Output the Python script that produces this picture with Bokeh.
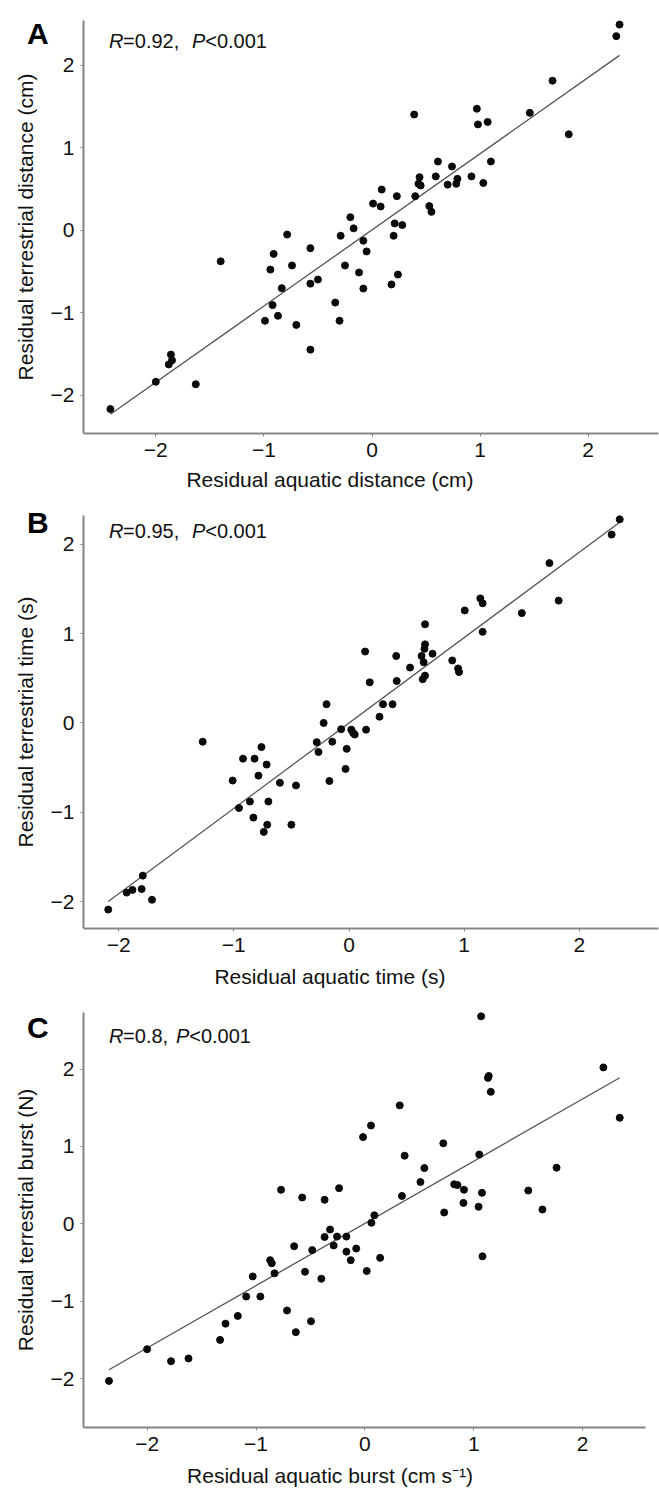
import numpy as np
from bokeh.plotting import figure
from bokeh.layouts import column
from bokeh.models import Label, FixedTicker
from bokeh.embed import file_html
from bokeh.resources import INLINE

# ---------------- data ----------------
tick_values = [-2, -1, 0, 1, 2]
tick_labels = ["\u22122", "\u22121", "0", "1", "2"]

panel_letters = ["A", "B", "C"]
x_titles = ["Residual aquatic distance (cm)",
            "Residual aquatic time (s)",
            "Residual aquatic burst (cm s\u207b\u00b9)"]
y_titles = ["Residual terrestrial distance (cm)",
            "Residual terrestrial time (s)",
            "Residual terrestrial burst (N)"]
r_values = ["0.92", "0.95", "0.8"]
p_value = "<0.001"

a_x = [2.29, 2.26, 1.67, 1.46, 1.82, 0.97, 0.98, 1.07, 0.39, 1.10, 0.61, 0.74,
       0.44, 0.43, 0.45, 0.59, 0.70, 0.79, 0.78, 0.92, 1.03, 0.09, 0.23, 0.40,
       0.01, 0.08, 0.53, 0.55, -0.20, -0.17, 0.21, 0.28, -0.29, 0.20, -0.785,
       -0.08, -0.05, -0.57, -0.91, -1.40, -0.74, -0.25, -0.94, -0.12, 0.24,
       -0.50, -0.57, 0.18, -0.835, -0.08, -0.34, -0.92, -0.99, -0.30, -0.87,
       -0.70, -0.57, -1.86, -1.85, -1.88, -2.00, -1.63, -2.42]
a_y = [2.49, 2.35, 1.81, 1.42, 1.16, 1.47, 1.28, 1.31, 1.40, 0.83, 0.83, 0.77,
       0.64, 0.56, 0.54, 0.65, 0.55, 0.62, 0.56, 0.65, 0.57, 0.49, 0.41, 0.41,
       0.32, 0.285, 0.29, 0.22, 0.155, 0.02, 0.08, 0.06, -0.07, -0.07, -0.055,
       -0.13, -0.26, -0.22, -0.29, -0.38, -0.43, -0.43, -0.48, -0.515, -0.54,
       -0.60, -0.65, -0.66, -0.705, -0.71, -0.88, -0.91, -1.10, -1.10, -1.04,
       -1.15, -1.45, -1.51, -1.58, -1.63, -1.84, -1.87, -2.17]

b_x = [2.35, 2.28, 1.74, 1.82, 1.50, 1.14, 1.16, 1.16, 1.005, 0.66, 0.66, 0.655,
       0.725, 0.63, 0.648, 0.896, 0.947, 0.955, 0.66, 0.64, 0.53, 0.41, 0.14,
       0.414, 0.18, 0.295, 0.378, -0.195, 0.265, -0.22, -0.068, 0.148, 0.02,
       0.035, 0.05, -1.27, -0.28, -0.145, -0.02, -0.265, -0.76, -0.92, -0.82,
       -0.715, -0.786, -1.01, -0.60, -0.46, -0.17, -0.03, -0.86, -0.70, -0.955,
       -0.83, -0.71, -0.74, -0.50, -1.79, -1.80, -1.88, -1.93, -1.71, -2.09]
b_y = [2.28, 2.11, 1.79, 1.37, 1.23, 1.395, 1.34, 1.02, 1.26, 1.105, 0.88, 0.83,
       0.775, 0.75, 0.68, 0.70, 0.61, 0.57, 0.53, 0.49, 0.62, 0.75, 0.80,
       0.47, 0.455, 0.21, 0.21, 0.21, 0.07, 0.0, -0.07, -0.075, -0.075,
       -0.11, -0.13, -0.21, -0.215, -0.21, -0.29, -0.325, -0.27, -0.40, -0.40,
       -0.466, -0.59, -0.645, -0.67, -0.70, -0.65, -0.515, -0.88, -0.88, -0.953,
       -1.06, -1.14, -1.22, -1.14, -1.71, -1.86, -1.87, -1.90, -1.98, -2.09]

c_x = [1.067, 2.19, 1.137, 1.13, 1.156, 2.34, 0.32, 0.056, -0.017, 0.72, 1.05,
       0.365, 0.546, 1.76, 0.51, 0.82, 0.85, 0.91, 1.50, 1.075, 0.34, 0.905,
       1.044, 1.63, 0.728, 0.087, 0.06, -0.77, -0.576, -0.37, -0.237, -0.32,
       -0.37, -0.256, -0.17, -0.287, -0.65, -0.484, -0.17, -0.08, -0.13, 0.14,
       0.017, 1.08, -0.87, -0.855, -0.83, -0.55, -0.40, -1.03, -1.09, -0.96,
       -0.715, -1.167, -0.495, -1.28, -0.634, -1.33, -2.00, -1.62, -1.78, -2.35]
c_y = [2.68, 2.02, 1.91, 1.885, 1.705, 1.37, 1.53, 1.27, 1.12, 1.04, 0.895,
       0.88, 0.72, 0.725, 0.54, 0.51, 0.50, 0.44, 0.43, 0.40, 0.36, 0.27,
       0.22, 0.185, 0.146, 0.11, 0.013, 0.44, 0.34, 0.31, 0.46, -0.074,
       -0.17, -0.165, -0.165, -0.28, -0.29, -0.34, -0.36, -0.32, -0.47, -0.44,
       -0.61, -0.42, -0.47, -0.51, -0.64, -0.62, -0.71, -0.68, -0.94, -0.94,
       -1.12, -1.19, -1.26, -1.29, -1.40, -1.50, -1.62, -1.74, -1.775, -2.03]

xs_all = [a_x, b_x, c_x]
ys_all = [a_y, b_y, c_y]

# ---------------- layout / style (page pixels) ----------------
FONT = "Liberation Sans"
WIDTH = 659
AXIS_LEFT = 83
AXIS_COL = "#858585"
panels = [
    dict(top=0, h=494, bb=61, x0px=371.5, xu=108.1, y0px=229.5, yu=82.5,
         ax_right=658, ax_top=20, letter_base=33, note_base=40, xlab_so=8,
         p_off=83),
    dict(top=494, h=496, bb=60, x0px=348.5, xu=115.2, y0px=723.5, yu=89.7,
         ax_right=658, ax_top=515, letter_base=522, note_base=530.7, xlab_so=10,
         p_off=83),
    dict(top=990, h=502, bb=65, x0px=364.4, xu=108.9, y0px=1223.3, yu=77.4,
         ax_right=645, ax_top=1012, letter_base=1027, note_base=1035, xlab_so=10,
         p_off=67),
]

figs = []
for i, P in enumerate(panels):
    def xv(px, P=P):
        return (px - P["x0px"]) / P["xu"]

    def yv(py, P=P):
        return (P["y0px"] - py) / P["yu"]

    frame_bottom = P["top"] + P["h"] - P["bb"]
    xr = (xv(0), xv(WIDTH))
    yr = (yv(frame_bottom), yv(P["top"]))

    p = figure(width=WIDTH, height=P["h"], output_backend="svg",
               toolbar_location=None, x_range=xr, y_range=yr,
               min_border_left=0, min_border_right=0,
               min_border_top=0, min_border_bottom=P["bb"])
    p.outline_line_color = None
    p.grid.visible = False
    p.background_fill_color = "white"
    p.border_fill_color = "white"

    for ax in (p.xaxis[0], p.yaxis[0]):
        ax.ticker = FixedTicker(ticks=tick_values)
        ax.major_label_overrides = {v: t for v, t in zip(tick_values, tick_labels)}
        ax.axis_line_color = AXIS_COL
        ax.axis_line_width = 2
        ax.major_tick_line_color = AXIS_COL
        ax.major_tick_in = 0
        ax.major_tick_out = 3
        ax.minor_tick_line_color = None
        ax.major_label_text_font = FONT
        ax.major_label_text_font_size = "21px"
        ax.major_label_text_color = "#111111"
        ax.axis_label_text_font = FONT
        ax.axis_label_text_font_size = "21px"
        ax.axis_label_text_font_style = "normal"
        ax.axis_label_text_color = "#111111"
    p.xaxis.axis_label = x_titles[i]
    p.yaxis.axis_label = y_titles[i]
    p.xaxis.bounds = (xv(AXIS_LEFT), xv(P["ax_right"]))
    p.xaxis.major_label_standoff = 6
    p.xaxis.axis_label_standoff = P["xlab_so"]
    p.yaxis.fixed_location = xv(AXIS_LEFT)
    p.yaxis.bounds = (yr[0], yv(P["ax_top"]))
    p.yaxis.major_label_standoff = 6
    p.yaxis.axis_label_standoff = 11

    x = np.array(xs_all[i])
    y = np.array(ys_all[i])
    slope, icpt = np.polyfit(x, y, 1)
    lx = np.array([x.min(), x.max()])
    p.line(lx, slope * lx + icpt, line_color="#555555", line_width=1.3)
    p.scatter(x, y, size=7, color="#0a0a0a")

    p.add_layout(Label(x=xv(26.5), y=yv(P["letter_base"]), text=panel_letters[i],
                       text_font=FONT, text_font_size="30px",
                       text_font_style="bold", text_color="#000000",
                       text_baseline="alphabetic"))
    note_left = 108.4
    parts = [("R", "italic", 0), ("=" + r_values[i] + ",", "normal", 14.2),
             ("P", "italic", P["p_off"]), (p_value, "normal", P["p_off"] + 13.3)]
    for txt, style, off in parts:
        p.add_layout(Label(x=xv(note_left + off), y=yv(P["note_base"]), text=txt,
                           text_font=FONT, text_font_size="20px",
                           text_font_style=style, text_color="#111111",
                           text_baseline="alphabetic"))
    figs.append(p)

layout_col = column(*figs, spacing=0)
open("out.html", "w").write(file_html(layout_col, INLINE))
